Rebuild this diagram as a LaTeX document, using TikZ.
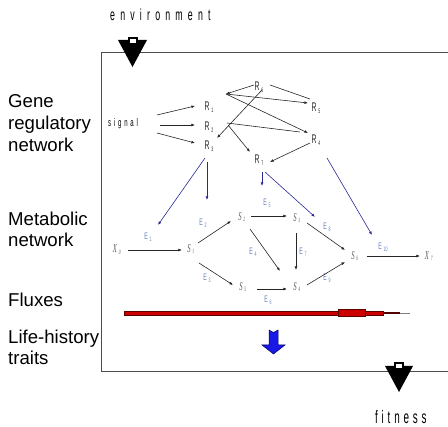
\documentclass[tikz,border=0pt]{standalone}
\usepackage{fontspec}
\setmainfont{Liberation Sans}
\newfontfamily\nsans[FakeStretch=0.55]{Liberation Sans}
\newfontfamily\nserif[FakeStretch=0.55]{Liberation Serif}
\usetikzlibrary{arrows.meta,calc}
\definecolor{ecol}{RGB}{100,130,185}
\definecolor{bcol}{RGB}{40,40,150}
\definecolor{fred}{RGB}{205,0,0}
\definecolor{fblue}{RGB}{25,25,230}
\newcommand\sbs[1]{\rlap{\hspace{1.8pt}\raisebox{-1.8pt}{\fontsize{6.5}{6.5}\selectfont #1}}}
\tikzset{
  lbl/.style={anchor=base west, inner sep=0pt, font=\fontsize{18.6}{21}\selectfont},
  rn/.style={inner sep=1pt, font=\nsans\fontsize{12.5}{12.5}\selectfont, text=black!85},
  sn/.style={inner sep=1pt, font=\nserif\itshape\fontsize{12}{12}\selectfont, text=black!65},
  en/.style={inner sep=1pt, font=\nsans\fontsize{9.5}{9.5}\selectfont, text=ecol},
  arr/.style={-{Latex[length=3.6pt,width=2.8pt]}, line width=0.6pt, draw=black!85},
  bl/.style={-{Latex[length=3.6pt,width=2.8pt]}, line width=0.6pt, draw=bcol},
  ln/.style={line width=0.6pt, draw=black!85},
  fr/.style={line width=0.8pt, draw=black!70},
}
\begin{document}
\begin{tikzpicture}[x=1pt,y=-1pt]
\useasboundingbox (0,0) rectangle (448,427);

% frame
\draw[fr] (448,52) -- (101,52) -- (101,371) -- (448,371);

% environment / fitness
\node[anchor=base west, inner sep=0pt, font=\nsans\fontsize{16}{16}\selectfont] (env) at (110,21)
  {\def\g{\hspace{5.2pt}}e\g n\g v\g i\g r\g o\g n\g m\g e\g n\g t};
\fill (118,40) -- (147,40) -- (132.5,67) -- cycle;
\fill (128,37) rectangle (138,45);
\fill[white] (130,39.5) rectangle (136,43);

\fill (385,366) -- (413,366) -- (399,392) -- cycle;
\fill (394,362) rectangle (404,370);
\fill[white] (396,364) rectangle (402,368);
\node[anchor=base west, inner sep=0pt, font=\nsans\fontsize{18}{18}\selectfont] (fit) at (375,424)
  {\def\g{\hspace{3.8pt}}f\g i\g t\g n\g e\g s\g s};

% left labels
\node[lbl] (l1) at (8,108) {Gene};
\node[lbl] (l2) at (8,130) {regulatory};
\node[lbl] (l3) at (8,152) {network};
\node[lbl] (l4) at (8,226) {Metabolic};
\node[lbl] (l5) at (8,247) {network};
\node[lbl] (l6) at (8,307) {Fluxes};
\node[lbl] (l7) at (8,344) {Life-history};
\node[lbl] (l8) at (8,365) {traits};

% signal
\node[anchor=base west, inner sep=0pt, font=\nsans\fontsize{11}{11}\selectfont] (sig) at (108,127)
  {\def\g{\hspace{2.8pt}}s\g i\g g\g n\g a\g l};

% gene network nodes
\node[rn] (R6) at (257,87) {R\sbs{6}};
\node[rn] (R1) at (207,107) {R\sbs{1}};
\node[rn] (R2) at (207,127) {R\sbs{2}};
\node[rn] (R3) at (207,146) {R\sbs{3}};
\node[rn] (R5) at (314,108) {R\sbs{5}};
\node[rn] (R4) at (314,140) {R\sbs{4}};
\node[rn] (R7) at (257,160) {R\sbs{7}};
\coordinate (J) at (226,94);

\draw[arr] ($(sig.base west)+(49,-12)$) -- ($(R1)+(-12,-1)$);
\draw[arr] ($(sig.base west)+(52,-2)$) -- ($(R2)+(-12,-2)$);
\draw[arr] ($(sig.base west)+(49,6)$) -- ($(R3)+(-12,-3)$);
\draw[arr] ($(R6)+(-3,-2)$) -- (J);
\draw[arr] (J) -- ($(R5)+(-6,-5)$);
\draw[arr] (J) -- ($(R4)+(-6,-7)$);
\draw[ln] ($(R6)+(13,-2)$) -- ($(R5)+(-4,-9)$);
\draw[arr] ($(R6)+(5,3)$) -- ($(R3)+(10,-8)$);
\draw[ln] ($(R2)+(20,-4)$) -- ($(R4)+(-14,-8)$);
\draw[arr] ($(R2)+(21,-2)$) -- ($(R7)+(-7,-8)$);
\draw[arr] ($(R4)+(-4,3)$) -- ($(R7)+(13,2)$);

% metabolic nodes
\node[sn] (X0) at (115,250) {X\sbs{0}};
\node[sn] (S1) at (189,249) {S\sbs{1}};
\node[sn] (S2) at (240,217) {S\sbs{2}};
\node[sn] (S3) at (295,218) {S\sbs{3}};
\node[sn] (S5) at (241,287) {S\sbs{5}};
\node[sn] (S4) at (295,287) {S\sbs{4}};
\node[sn] (S6) at (353,256) {S\sbs{6}};
\node[sn] (X7) at (427,256) {X\sbs{7}};

\node[en] (E1) at (146,237) {E\sbs{1}};
\node[en] (E2) at (201,223) {E\sbs{2}};
\node[en] (E3) at (205,278) {E\sbs{3}};
\node[en] (E4) at (251,252) {E\sbs{4}};
\node[en] (E5) at (265,203) {E\sbs{5}};
\node[en] (E6) at (266,300) {E\sbs{6}};
\node[en] (E7) at (301,252) {E\sbs{7}};
\node[en] (E8) at (325,227) {E\sbs{8}};
\node[en] (E9) at (325,278) {E\sbs{9}};
\node[en] (E10) at (380,247) {E\sbs{10}};

\draw[arr] ($(X0)+(13,0)$) -- ($(S1)+(-7,1)$);
\draw[arr] ($(S1)+(9,-6)$) -- ($(S2)+(-9,4)$);
\draw[arr] ($(S1)+(10,14)$) -- ($(S5)+(-8,-2)$);
\draw[arr] ($(S2)+(11,-1)$) -- ($(S3)+(-8,-2)$);
\draw[arr] ($(S2)+(10,12)$) -- ($(S4)+(-15,-16)$);
\draw[arr] ($(S3)+(1,15)$) -- ($(S4)+(1,-17)$);
\draw[arr] ($(S5)+(16,2)$) -- ($(S4)+(-8,2)$);
\draw[arr] ($(S3)+(12,5)$) -- ($(S6)+(-8,-6)$);
\draw[arr] ($(S4)+(12,-2)$) -- ($(S6)+(-8,6)$);
\draw[arr] ($(S6)+(14,0)$) -- ($(X7)+(-7,0)$);

% regulation of enzymes
\draw[bl] ($(R3)+(-2,12)$) -- ($(E1)+(12,-12)$);
\draw[bl] ($(R3)+(0,16)$) -- ($(E2)+(6,-23)$);
\draw[bl] ($(R7)+(5,12)$) -- ($(E5)+(-3,-17)$);
\draw[bl] ($(R7)+(8,12)$) -- ($(E8)+(-10,-10)$);
\draw[bl] ($(R4)+(13,18)$) -- ($(E10)+(-8,-12)$);

% flux bar
\filldraw[fill=fred, draw=fred!45!black, line width=0.4pt] (124,311) rectangle (338,315);
\filldraw[fill=fred, draw=fred!45!black, line width=0.4pt] (338,309.5) rectangle (365,316.5);
\filldraw[fill=fred, draw=fred!45!black, line width=0.4pt] (365,311) rectangle (383,315);
\fill[fred!40!black] (383,312) rectangle (400,314);
\draw[gray, line width=0.6pt] (400,313) -- (410,313);

% blue arrow to traits
\filldraw[fill=fblue, draw=blue!40!black, line width=0.5pt]
  (269,330) -- (273.5,332.5) -- (278,330) -- (278,345) -- (285,345) -- (273.5,354)
  -- (262,345) -- (269,345) -- cycle;
\end{tikzpicture}
\end{document}
